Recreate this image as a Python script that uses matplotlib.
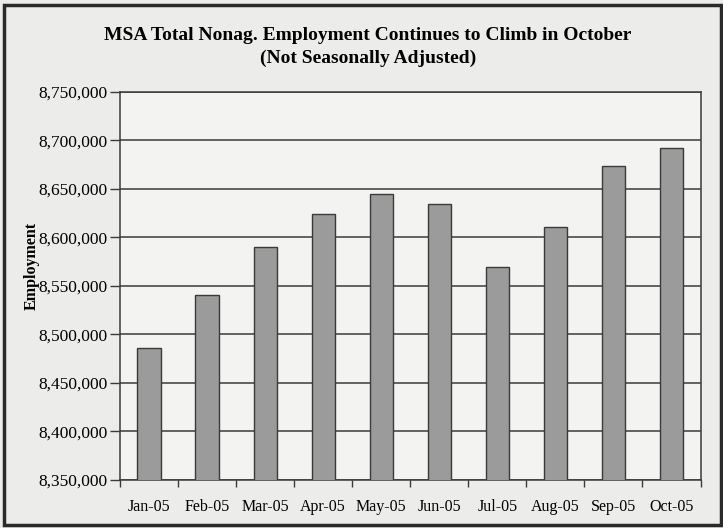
import matplotlib
matplotlib.use("Agg")
import matplotlib.pyplot as plt
from matplotlib.patches import Rectangle
from matplotlib.ticker import FuncFormatter, MultipleLocator, FixedLocator
import numpy as np

months = ["Jan-05", "Feb-05", "Mar-05", "Apr-05", "May-05",
          "Jun-05", "Jul-05", "Aug-05", "Sep-05", "Oct-05"]
employment = [8485500, 8541000, 8590000, 8623500, 8645000,
              8634000, 8569500, 8611000, 8673500, 8691500]
title_line1 = "MSA Total Nonag. Employment Continues to Climb in October"
title_line2 = "(Not Seasonally Adjusted)"
y_label = "Employment"

plt.rcParams['font.family'] = ['Liberation Serif', 'DejaVu Serif']

W, H = 723, 528
fig = plt.figure(figsize=(W / 100, H / 100), dpi=100, facecolor='#ececea')
ax = fig.add_axes([120 / W, 1 - 480 / H, (700.5 - 120) / W, (480 - 91.7) / H])
ax.set_facecolor('#f3f3f1')

x = np.arange(len(months))
ax.bar(x, employment, width=0.4, color='#9b9b9b', edgecolor='#3a3a3a',
       linewidth=1.0, zorder=3)

ax.set_xlim(-0.5, len(months) - 0.5)
ax.set_ylim(8350000, 8750000)
ax.yaxis.set_major_locator(MultipleLocator(50000))
ax.yaxis.set_major_formatter(FuncFormatter(lambda v, p: f"{int(round(v)):,}"))
ax.grid(axis='y', color='#3a3a3a', linewidth=1.1, zorder=1)

ax.set_xticks(x)
ax.set_xticklabels(months)
ax.xaxis.set_minor_locator(FixedLocator(np.arange(-0.5, len(months), 1.0)))
ax.tick_params(axis='x', which='major', length=0, pad=14, labelsize=11.5)
ax.tick_params(axis='x', which='minor', length=5, width=1.0, color='#3a3a3a', direction='out')
ax.tick_params(axis='y', length=7, width=1.0, color='#3a3a3a', pad=2, labelsize=12.5)

for s in ['left', 'right', 'bottom', 'top']:
    ax.spines[s].set_color('#3a3a3a')
    ax.spines[s].set_linewidth(1.1)

ax.set_ylabel(y_label, fontsize=11.5, fontweight='bold')
ax.yaxis.set_label_coords(-80 / 580.5, 0.55)

fig.text(368 / W, 1 - 35 / H, title_line1, ha='center', va='center',
         fontsize=14, fontweight='bold')
fig.text(368 / W, 1 - 58 / H, title_line2, ha='center', va='center',
         fontsize=14, fontweight='bold')

fig.patches.append(Rectangle((4 / W, 3 / H), (W - 6) / W, (H - 8) / H,
                             transform=fig.transFigure, fill=False,
                             edgecolor='#2a2a2a', linewidth=2.5))

fig.savefig("out.png", dpi=100, facecolor=fig.get_facecolor())
